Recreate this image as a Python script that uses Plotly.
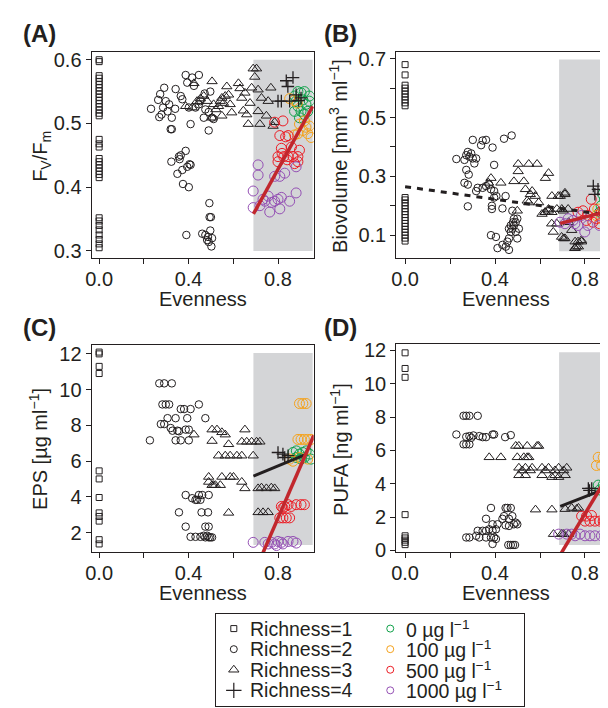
import plotly.graph_objects as go

# ---------------- DATA ----------------
# Panel A : Fv/Fm
A_r1_y = [0.600,0.597,0.575,0.571,0.566,0.561,0.556,0.551,0.546,0.541,0.536,0.531,0.526,0.521,0.516,0.512,
          0.475,0.468,0.463,0.445,0.440,0.435,0.430,0.425,0.420,0.415,0.352,0.347,0.340,0.333,0.325,0.318,0.311,0.305]
A_r2_x = [0.232,0.273,0.291,0.264,0.269,0.279,0.286,0.298,0.306,0.313,0.325,0.342,0.340,0.320,0.325,
          0.387,0.394,0.416,0.446,0.424,0.365,0.401,0.409,0.372,
          0.431,0.453,0.468,0.475,0.490,0.497,0.505,0.512,0.490,0.472,0.446,
          0.323,0.350,0.357,0.365,0.372,0.375,0.387,0.394,0.404,0.401,0.360,0.409,
          0.390,0.461,0.475,0.483,0.490,0.493,0.494,0.500,0.497,0.505,0.502,0.487]
A_r2_y = [0.523,0.546,0.556,0.537,0.510,0.514,0.525,0.535,0.519,0.530,0.509,0.554,0.523,0.491,0.491,
          0.576,0.564,0.572,0.576,0.559,0.543,0.525,0.499,0.538,
          0.525,0.535,0.509,0.522,0.489,0.550,0.509,0.507,0.518,0.547,0.530,
          0.440,0.421,0.448,0.450,0.427,0.405,0.457,0.432,0.436,0.400,0.444,0.435,
          0.325,0.327,0.325,0.317,0.314,0.375,0.353,0.353,0.332,0.320,0.307,0.322]
A_r3_x = [0.387,0.424,0.416,0.438,0.453,0.468,0.483,0.505,0.512,0.522,0.534,0.542,0.549,0.556,0.564,0.571,
          0.579,0.586,0.593,0.549,0.505,0.623,0.630,0.638,0.645,0.652,0.660,0.667,0.675,0.689,0.704,0.682,
          0.711,0.711,0.719,0.726,0.756,0.768,0.778,0.748,0.785,0.696]
A_r3_y = [0.527,0.563,0.525,0.535,0.539,0.543,0.535,0.566,0.530,0.522,0.527,0.535,0.540,0.532,0.543,0.558,
          0.545,0.530,0.517,0.512,0.509,0.563,0.555,0.540,0.520,0.548,0.514,0.499,0.532,0.586,0.586,0.556,
          0.553,0.519,0.499,0.540,0.535,0.556,0.496,0.512,0.502,0.573]
A_r4_x = [0.837,0.867,0.844,0.800,0.815,0.852,0.892,0.903,0.881]
A_r4_y = [0.567,0.572,0.558,0.535,0.535,0.535,0.536,0.540,0.545]
A_c0_x = [0.889,0.903,0.918,0.874,0.911,0.925,0.940,0.889,0.874,0.903,0.918,0.896,0.940,0.933,0.881]
A_c0_y = [0.550,0.548,0.550,0.543,0.537,0.530,0.535,0.527,0.519,0.519,0.514,0.509,0.543,0.519,0.535]
A_c100_x = [0.852,0.871,0.886,0.918,0.925,0.911,0.933,0.948,0.889,0.896,0.940,0.874]
A_c100_y = [0.539,0.536,0.532,0.504,0.494,0.489,0.484,0.478,0.484,0.499,0.496,0.482]
A_c500_x = [0.785,0.822,0.808,0.834,0.845,0.860,0.815,0.800,0.826,0.841,0.867,0.874,0.889,0.896,0.845,0.818,0.800,0.889]
A_c500_y = [0.502,0.504,0.481,0.479,0.481,0.463,0.461,0.448,0.448,0.443,0.448,0.437,0.448,0.458,0.448,0.453,0.440,0.440]
A_c1000_x = [0.711,0.711,0.689,0.689,0.719,0.733,0.741,0.756,0.771,0.785,0.800,0.815,0.763,0.808,0.830,0.808,0.852,0.881,0.881,0.785]
A_c1000_y = [0.435,0.419,0.394,0.368,0.371,0.381,0.378,0.386,0.376,0.378,0.381,0.384,0.361,0.366,0.422,0.417,0.378,0.391,0.432,0.417]
A_fit_x = [0.69, 0.955]
A_fit_y = [0.358, 0.527]

# Panel B : Biovolume
B_r1_y = [0.680,0.645,0.610,0.600,0.590,0.580,0.570,0.560,0.550,0.540,
          0.228,0.220,0.210,0.200,0.190,0.180,0.170,0.160,0.150,0.140,0.130,0.120,0.110,0.100,0.090,0.080]
B_r2_x = [0.228,0.264,0.272,0.279,0.286,0.294,0.301,0.308,0.272,0.283,0.264,0.279,0.301,0.338,0.345,0.360,
          0.389,0.440,0.474,0.316,0.396,
          0.323,0.345,0.360,0.374,0.382,0.396,0.406,0.386,0.386,0.433,0.316,0.279,0.396,0.447,0.477,
          0.382,0.404,0.411,0.433,0.455,0.462,0.470,0.477,0.484,0.492,0.499,0.480,0.470,0.462,0.492,0.499,
          0.462,0.448,0.484,0.506]
B_r2_y = [0.359,0.356,0.372,0.383,0.367,0.378,0.361,0.344,0.322,0.306,0.278,0.272,0.424,0.406,0.422,0.424,
          0.398,0.428,0.439,0.361,0.339,
          0.261,0.261,0.267,0.272,0.256,0.250,0.233,0.200,0.189,0.191,0.250,0.198,0.228,0.233,0.183,
          0.100,0.094,0.056,0.067,0.078,0.089,0.111,0.122,0.133,0.144,0.156,0.144,0.133,0.122,0.111,0.089,
          0.050,0.061,0.156,0.122]
B_r3_x = [0.382,0.371,0.503,0.503,0.484,0.528,0.550,0.587,0.638,0.624,0.535,0.557,0.579,0.543,0.499,0.594,
          0.638,0.624,0.609,0.653,0.711,0.690,0.675,0.697,0.675,0.705,0.741,0.727,0.756,0.771,0.785,0.756,
          0.653,0.426,0.550,0.565,0.652,0.659,0.696,0.711,0.725,0.703,0.769,0.784,0.762,0.755,0.711,0.681,0.637,0.622]
B_r3_y = [0.294,0.278,0.342,0.317,0.283,0.283,0.342,0.342,0.311,0.294,0.256,0.239,0.233,0.217,0.183,0.211,
          0.189,0.178,0.172,0.178,0.244,0.233,0.189,0.189,0.139,0.089,0.117,0.144,0.078,0.061,0.078,0.056,
          0.233,0.278,0.211,0.250,0.139,0.111,0.094,0.089,0.189,0.183,0.078,0.083,0.061,0.056,0.239,0.233,0.183,0.178]
B_r4_x = [0.837,0.858,0.873,0.844]
B_r4_y = [0.267,0.256,0.239,0.239]
B_c0_x = [0.879,0.887,0.908,0.901,0.923,0.887,0.916,0.872,0.865,0.931]
B_c0_y = [0.239,0.222,0.211,0.178,0.189,0.189,0.161,0.200,0.178,0.222]
B_c100_x = [0.872,0.894,0.850,0.916,0.857,0.901]
B_c100_y = [0.156,0.167,0.167,0.178,0.189,0.144]
B_c500_x = [0.828,0.842,0.791,0.813,0.835,0.865,0.806,0.872,0.769,0.850]
B_c500_y = [0.222,0.189,0.183,0.167,0.144,0.139,0.150,0.178,0.178,0.156]
B_c1000_x = [0.689,0.725,0.747,0.755,0.784,0.799,0.813,0.769,0.865,0.711]
B_c1000_y = [0.144,0.156,0.150,0.139,0.167,0.111,0.133,0.133,0.133,0.139]
B_dash_x = [0.0, 0.95]
B_dash_y = [0.265, 0.163]
B_fit_x = [0.69, 0.96]
B_fit_y = [0.140, 0.193]

# Panel C : EPS
C_r1_y = [12.1,12.0,11.3,10.9,5.45,5.0,3.96,3.1,2.9,2.64,1.6,1.36]
C_r2_x = [0.227,0.269,0.291,0.325,0.283,0.298,0.313,0.276,0.291,0.306,0.342,0.320,0.328,0.350,0.365,0.380,
          0.409,0.446,0.394,0.357,0.387,0.401,0.342,0.365,0.401,0.475,
          0.387,0.416,0.431,0.446,0.461,0.438,0.453,0.490,0.357,0.458,0.487,0.387,0.475,0.490,
          0.409,0.431,0.453,0.468,0.483,0.490,0.497,0.505,0.475]
C_r2_y = [7.16,10.35,10.35,10.35,9.17,9.17,9.17,8.07,8.07,8.40,8.40,7.85,7.70,7.70,8.91,8.91,
          8.91,9.17,8.40,7.67,7.76,7.76,7.16,7.16,7.16,8.40,
          4.10,3.92,3.83,4.10,4.10,3.83,3.83,4.10,3.13,3.13,3.13,2.33,2.33,2.33,
          1.76,1.76,1.76,1.82,1.82,1.73,1.73,1.73,1.73]
C_r3_x = [0.424,0.505,0.527,0.549,0.564,0.505,0.579,0.564,0.534,0.586,0.652,0.638,0.660,0.682,0.704,0.719,
          0.616,0.638,0.689,0.490,0.490,0.505,0.520,0.542,0.549,0.586,0.601,0.638,0.652,0.711,0.748,0.785,
          0.579,0.711,0.733,0.756,0.512,0.726,0.770]
C_r3_y = [7.48,7.76,7.76,7.61,7.48,7.12,6.94,6.30,6.30,6.30,7.76,7.08,7.08,7.08,7.08,7.08,
          6.30,6.30,6.30,5.11,4.83,4.65,4.65,4.65,5.11,5.11,5.11,4.83,4.47,4.47,4.47,4.47,
          3.10,3.13,3.13,3.13,4.65,4.51,4.51]
C_r4_x = [0.800,0.822,0.845,0.830]
C_r4_y = [6.48,6.39,6.30,6.20]
C_c0_x = [0.867,0.882,0.896,0.911,0.926,0.941,0.882,0.918,0.948,0.903]
C_c0_y = [6.48,6.57,6.39,6.48,6.57,6.39,6.20,6.20,6.11,6.11]
C_c100_x = [0.896,0.911,0.926,0.889,0.903,0.918,0.933,0.948,0.852,0.867,0.896,0.933]
C_c100_y = [9.22,9.22,9.22,7.21,7.21,7.21,7.21,7.21,6.11,5.99,6.20,6.11]
C_c500_x = [0.815,0.830,0.845,0.859,0.881,0.903,0.918,0.808,0.822,0.837,0.852,0.822]
C_c500_y = [3.46,3.46,3.56,3.46,3.56,3.56,3.56,2.82,2.82,2.82,2.82,3.37]
C_c1000_x = [0.689,0.741,0.756,0.771,0.785,0.800,0.815,0.822,0.845,0.867,0.882,0.793]
C_c1000_y = [1.45,1.45,1.36,1.45,1.36,1.50,1.45,1.36,1.50,1.50,1.41,1.27]
C_fit_x = [0.69, 0.93]
C_fit_y = [5.16, 6.40]
C_red_x = [0.69, 0.96]
C_red_y = [-0.37, 7.43]

# Panel D : PUFA
D_r1_y = [11.86,10.92,10.39,2.15,0.88,0.75,0.62,0.49,0.35]
D_r2_x = [0.228,0.260,0.272,0.286,0.323,0.260,0.272,0.286,0.272,0.286,0.304,0.330,0.345,0.360,0.389,0.396,
          0.445,0.470,0.294,
          0.382,0.360,0.389,0.411,0.433,0.440,0.447,0.455,0.470,0.477,0.462,0.484,0.492,0.499,0.462,0.447,
          0.323,0.345,0.360,0.374,0.389,0.404,0.360,0.382,0.396,0.404,0.389,0.459,0.470,0.480,0.489,
          0.272,0.286,0.316,0.330]
D_r2_y = [6.96,8.08,8.08,8.08,8.08,6.37,6.37,6.37,6.82,6.86,6.90,6.86,6.80,6.80,6.96,6.96,
          6.80,6.92,6.76,
          2.55,1.90,1.57,1.57,1.90,2.06,2.55,2.55,2.55,2.06,1.90,1.57,1.67,1.57,1.47,1.51,
          1.18,1.18,1.18,1.27,1.18,1.27,0.78,0.78,0.78,0.69,0.39,0.33,0.33,0.33,0.33,
          0.78,0.78,0.88,0.78]
D_r3_x = [0.374,0.426,0.492,0.506,0.543,0.587,0.594,0.499,0.528,0.543,0.550,0.506,0.521,0.535,0.557,0.565,
          0.609,0.624,0.638,0.667,0.683,0.705,0.719,0.506,0.535,0.609,0.667,0.712,0.580,0.653,0.712,0.763,
          0.705,0.727,0.653,0.683,0.741,0.771,0.660,0.697]
D_r3_y = [5.59,5.59,6.27,6.27,6.27,6.27,6.27,5.59,5.59,5.59,5.59,4.96,4.80,4.96,4.80,4.96,
          4.96,4.80,4.96,4.80,4.96,4.80,4.96,4.51,4.51,4.51,4.51,4.51,2.45,2.45,2.48,2.49,
          0.98,0.98,4.40,4.40,2.55,2.55,0.98,1.00]
D_r4_x = [0.815,0.830,0.820]
D_r4_y = [3.72,3.72,3.60]
D_c0_x = [0.859,0.881,0.903,0.925,0.866,0.888,0.910,0.932]
D_c0_y = [3.92,3.92,3.92,3.92,3.63,3.63,3.63,3.63]
D_c100_x = [0.859,0.881,0.903,0.925,0.851,0.874,0.896,0.918,0.933,0.896]
D_c100_y = [5.59,5.59,5.59,5.59,5.10,5.10,5.10,5.10,5.10,5.30]
D_c500_x = [0.785,0.807,0.829,0.800,0.822,0.844,0.866,0.881,0.903]
D_c500_y = [2.06,2.06,2.10,1.76,1.76,1.76,1.76,1.76,1.76]
D_c1000_x = [0.683,0.719,0.741,0.756,0.778,0.800,0.822,0.844,0.873]
D_c1000_y = [0.98,0.98,0.98,0.88,0.98,0.88,0.88,0.88,0.88]
D_fit_x = [0.69, 0.92]
D_fit_y = [2.65, 3.86]
D_red_x = [0.69, 0.96]
D_red_y = [-0.26, 5.79]

# shaded region bounds [x0, x1, y0, y1]
A_shade = [0.69, 0.955, 0.300, 0.600]
B_shade = [0.685, 0.95, 0.045, 0.697]
C_shade = [0.69, 0.955, 1.30, 12.05]
D_shade = [0.685, 0.95, 0.33, 11.9]

legend_rich = ["Richness=1", "Richness=2", "Richness=3", "Richness=4"]
legend_conc = ["0 µg l<sup>−1</sup>", "100 µg l<sup>−1</sup>", "500 µg l<sup>−1</sup>", "1000 µg l<sup>−1</sup>"]

# ---------------- STYLE ----------------
W, H = 608, 708
FONT = "Liberation Sans, Arial, Helvetica, sans-serif"
INK = "#231f20"
GREEN, ORANGE, RED, PURPLE = "#10a14a", "#f5a21b", "#ec1c24", "#9450b4"
FITRED = "#c1272d"
GRAY = "#d4d5d7"

def px(x):
    return x / W

def py(y):
    return 1 - y / H

fig = go.Figure()

panels = {
    "A": dict(xa="x", ya="y", xd=[78.3, 302.7], yd=[40, 250], xr=[-0.0341, 0.9597], yr=[0.2888, 0.6118],
              yt=[0.3, 0.4, 0.5, 0.6], ytt=["0.3", "0.4", "0.5", "0.6"], ym=[]),
    "B": dict(xa="x2", ya="y2", xd=[386, 608], yd=[40, 250], xr=[-0.0396, 0.938], yr=[0.0222, 0.7222],
              yt=[0.1, 0.3, 0.5, 0.7], ytt=["0.1", "0.3", "0.5", "0.7"], ym=[0.2, 0.4, 0.6]),
    "C": dict(xa="x3", ya="y3", xd=[78.3, 302.7], yd=[339, 550], xr=[-0.0341, 0.9597], yr=[0.903, 12.48],
              yt=[2, 4, 6, 8, 10, 12], ytt=["2", "4", "6", "8", "10", "12"], ym=[]),
    "D": dict(xa="x4", ya="y4", xd=[386, 608], yd=[338, 550], xr=[-0.0396, 0.938], yr=[-0.1, 12.37],
              yt=[0, 2, 4, 6, 8, 10, 12], ytt=["0", "2", "4", "6", "8", "10", "12"], ym=[]),
}

data = {
    "A": dict(r1=A_r1_y, r2=(A_r2_x, A_r2_y), r3=(A_r3_x, A_r3_y), r4=(A_r4_x, A_r4_y),
              c=[(A_c0_x, A_c0_y), (A_c100_x, A_c100_y), (A_c500_x, A_c500_y), (A_c1000_x, A_c1000_y)],
              shade=A_shade),
    "B": dict(r1=B_r1_y, r2=(B_r2_x, B_r2_y), r3=(B_r3_x, B_r3_y), r4=(B_r4_x, B_r4_y),
              c=[(B_c0_x, B_c0_y), (B_c100_x, B_c100_y), (B_c500_x, B_c500_y), (B_c1000_x, B_c1000_y)],
              shade=B_shade),
    "C": dict(r1=C_r1_y, r2=(C_r2_x, C_r2_y), r3=(C_r3_x, C_r3_y), r4=(C_r4_x, C_r4_y),
              c=[(C_c0_x, C_c0_y), (C_c100_x, C_c100_y), (C_c500_x, C_c500_y), (C_c1000_x, C_c1000_y)],
              shade=C_shade),
    "D": dict(r1=D_r1_y, r2=(D_r2_x, D_r2_y), r3=(D_r3_x, D_r3_y), r4=(D_r4_x, D_r4_y),
              c=[(D_c0_x, D_c0_y), (D_c100_x, D_c100_y), (D_c500_x, D_c500_y), (D_c1000_x, D_c1000_y)],
              shade=D_shade),
}

conc_colors = [GREEN, ORANGE, RED, PURPLE]

def mk(symbol, size, color, lw=1.0):
    return dict(symbol=symbol, size=size, color=color, line=dict(color=color, width=lw))

shapes = []
annotations = []
layout_axes = {}

for key, p in panels.items():
    d = data[key]
    xa, ya = p["xa"], p["ya"]
    sx = d["shade"]
    shapes.append(dict(type="rect", xref=xa, yref=ya, x0=sx[0], x1=sx[1], y0=sx[2], y1=sx[3],
                       fillcolor=GRAY, line=dict(width=0), layer="below"))
    r1y = d["r1"]
    fig.add_trace(go.Scatter(x=[0.0] * len(r1y), y=r1y, mode="markers", xaxis=xa, yaxis=ya,
                             marker=mk("square-open", 6, INK), showlegend=False))
    fig.add_trace(go.Scatter(x=d["r2"][0], y=d["r2"][1], mode="markers", xaxis=xa, yaxis=ya,
                             marker=mk("circle-open", 7.5, INK), showlegend=False))
    fig.add_trace(go.Scatter(x=d["r3"][0], y=d["r3"][1], mode="markers", xaxis=xa, yaxis=ya,
                             marker=mk("triangle-up-open", 9, INK), showlegend=False))
    for (cx, cy), col in zip(d["c"], conc_colors):
        fig.add_trace(go.Scatter(x=cx, y=cy, mode="markers", xaxis=xa, yaxis=ya,
                                 marker=mk("circle-open", 10, col), showlegend=False))
    fig.add_trace(go.Scatter(x=d["r4"][0], y=d["r4"][1], mode="markers", xaxis=xa, yaxis=ya,
                             marker=mk("cross-thin-open", 9, INK, 1.3), showlegend=False))

    n = xa[1:] if len(xa) > 1 else ""
    x_dom = [p["xd"][0] / W, min(1.0, p["xd"][1] / W)]
    y_dom = [1 - p["yd"][1] / H, 1 - p["yd"][0] / H]
    right_cut = p["xd"][1] >= W
    layout_axes["xaxis" + n] = dict(
        domain=x_dom, range=p["xr"], anchor=ya, tickmode="array", tickvals=[0, 0.4, 0.8],
        ticktext=["0.0", "0.4", "0.8"], ticks="outside", ticklen=5, tickwidth=1, tickcolor=INK,
        ticklabelstandoff=-2,
        minor=dict(tickmode="array", tickvals=[0.2, 0.6], ticks="outside", ticklen=5, tickwidth=1,
                   tickcolor=INK, showgrid=False),
        showline=True, linecolor=INK, linewidth=1, mirror=True, showgrid=False, zeroline=False,
        tickfont=dict(size=20, color=INK, family=FONT))
    yax = dict(
        domain=y_dom, range=p["yr"], anchor=xa, tickmode="array", tickvals=p["yt"], ticktext=p["ytt"],
        ticks="outside", ticklen=5, tickwidth=1, tickcolor=INK,
        showline=True, linecolor=INK, linewidth=1, mirror=(not right_cut), showgrid=False, zeroline=False,
        tickfont=dict(size=20, color=INK, family=FONT))
    if p["ym"]:
        yax["minor"] = dict(tickmode="array", tickvals=p["ym"], ticks="outside", ticklen=5, tickwidth=1,
                            tickcolor=INK, showgrid=False)
    layout_axes["yaxis" + n] = yax

# fitted lines
fig.add_trace(go.Scatter(x=A_fit_x, y=A_fit_y, mode="lines", xaxis="x", yaxis="y",
                         line=dict(color=FITRED, width=3.5), showlegend=False))
fig.add_trace(go.Scatter(x=B_dash_x, y=B_dash_y, mode="lines", xaxis="x2", yaxis="y2",
                         line=dict(color=INK, width=3, dash="6px,6px"), showlegend=False))
fig.add_trace(go.Scatter(x=B_fit_x, y=B_fit_y, mode="lines", xaxis="x2", yaxis="y2",
                         line=dict(color=FITRED, width=3.5), showlegend=False))
fig.add_trace(go.Scatter(x=C_fit_x, y=C_fit_y, mode="lines", xaxis="x3", yaxis="y3",
                         line=dict(color=INK, width=3), showlegend=False))
fig.add_trace(go.Scatter(x=C_red_x, y=C_red_y, mode="lines", xaxis="x3", yaxis="y3",
                         line=dict(color=FITRED, width=3.5), showlegend=False))
fig.add_trace(go.Scatter(x=D_fit_x, y=D_fit_y, mode="lines", xaxis="x4", yaxis="y4",
                         line=dict(color=INK, width=3), showlegend=False))
fig.add_trace(go.Scatter(x=D_red_x, y=D_red_y, mode="lines", xaxis="x4", yaxis="y4",
                         line=dict(color=FITRED, width=3.5), showlegend=False))

# legend panel on its own pixel-scaled axis
LX0, LX1, LY0, LY1 = 204, 515, 613, 707
layout_axes["xaxis5"] = dict(domain=[LX0 / W, LX1 / W], range=[LX0, LX1], anchor="y5",
                             tickmode="array", tickvals=[], showticklabels=False, ticks="",
                             showgrid=False, zeroline=False,
                             showline=True, linecolor=INK, linewidth=1, mirror=True, fixedrange=True)
layout_axes["yaxis5"] = dict(domain=[1 - LY1 / H, 1 - LY0 / H], range=[LY1, LY0], anchor="x5",
                             tickmode="array", tickvals=[], showticklabels=False, ticks="",
                             showgrid=False, zeroline=False,
                             showline=True, linecolor=INK, linewidth=1, mirror=True, fixedrange=True)
rows_y = [628, 649, 670, 691]
rich_markers = [("square-open", 6, 1.0), ("circle-open", 7, 1.0), ("triangle-up-open", 9, 1.0),
                ("cross-thin-open", 11, 1.2)]
for (sym, sz, lw), yy, lab in zip(rich_markers, rows_y, legend_rich):
    fig.add_trace(go.Scatter(x=[222], y=[yy], mode="markers", xaxis="x5", yaxis="y5",
                             marker=mk(sym, sz, INK, lw), showlegend=False, cliponaxis=False))
    annotations.append(dict(x=236, y=yy, xref="x5", yref="y5", text=lab, showarrow=False,
                            xanchor="left", yanchor="middle", font=dict(size=19.5, color=INK, family=FONT)))
for col, yy, lab in zip(conc_colors, rows_y, legend_conc):
    fig.add_trace(go.Scatter(x=[380], y=[yy], mode="markers", xaxis="x5", yaxis="y5",
                             marker=mk("circle-open", 7, col), showlegend=False, cliponaxis=False))
    annotations.append(dict(x=394, y=yy, xref="x5", yref="y5", text=lab, showarrow=False,
                            xanchor="left", yanchor="middle", font=dict(size=19.5, color=INK, family=FONT)))

# titles
titles_x = [(190.5, 292), (497, 292), (190.5, 592), (497, 592)]
for (tx, ty) in titles_x:
    annotations.append(dict(x=px(tx), y=py(ty), xref="paper", yref="paper", text="Evenness",
                            showarrow=False, xanchor="center", yanchor="middle",
                            font=dict(size=20, color=INK, family=FONT)))
ytitles = [(27, 146, "F<sub>V</sub>/F<sub>m</sub>"),
           (327, 146, "Biovolume [mm<sup>3</sup> ml<sup>−1</sup>]"),
           (24, 445, "EPS [µg ml<sup>−1</sup>]"),
           (328, 445, "PUFA [ng ml<sup>−1</sup>]")]
for tx, ty, txt in ytitles:
    annotations.append(dict(x=px(tx), y=py(ty), xref="paper", yref="paper", text=txt, textangle=-90,
                            showarrow=False, xanchor="center", yanchor="middle",
                            font=dict(size=20, color=INK, family=FONT)))
plabels = [(7, 21, "(A)"), (311, 21, "(B)"), (7, 321, "(C)"), (311, 321, "(D)")]
for tx, ty, txt in plabels:
    annotations.append(dict(x=px(tx), y=py(ty), xref="paper", yref="paper", text="<b>" + txt + "</b>",
                            showarrow=False, xanchor="left", yanchor="middle",
                            font=dict(size=24, color=INK, family=FONT)))

fig.update_layout(width=W, height=H, margin=dict(l=0, r=0, t=0, b=0), paper_bgcolor="white",
                  plot_bgcolor="white", shapes=shapes, annotations=annotations, hovermode=False,
                  font=dict(family=FONT, color=INK), **layout_axes)

fig.write_html("out.html")
